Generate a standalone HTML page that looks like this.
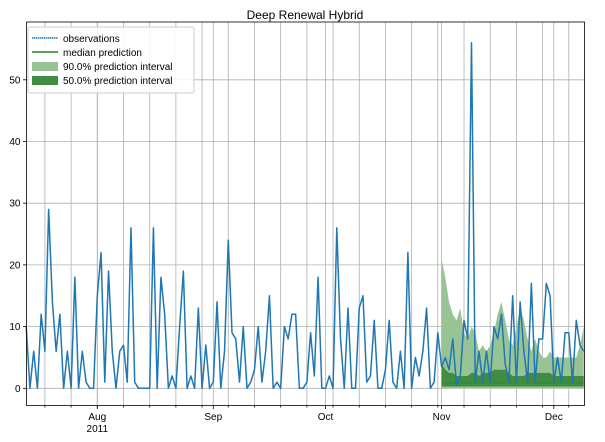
<!DOCTYPE html>
<html><head><meta charset="utf-8"><style>
body{margin:0;background:#fff;}
svg{display:block;font-family:"Liberation Sans","DejaVu Sans",sans-serif;}
</style></head><body>
<svg id="chart" width="605" height="442" viewBox="0 0 605 442">
<text x="305" y="19" text-anchor="middle" font-size="12" fill="#000">Deep Renewal Hybrid</text>
<g id="grid"></g>
<g id="bands"></g>
<g id="series"></g>
<g id="axes"></g>
<g id="legend">
<rect x="28" y="27" width="166" height="66" fill="#fff" fill-opacity="0.85" stroke="#ccc" rx="2"/>
<line x1="32" y1="38" x2="58" y2="38" stroke="#1f77b4" stroke-width="1.5" stroke-dasharray="1.5 0.5"/>
<text x="63" y="42" font-size="10">observations</text>
<line x1="32" y1="52" x2="58" y2="52" stroke="#2b7d2b" stroke-width="1.5"/>
<text x="63" y="56" font-size="10">median prediction</text>
<rect x="32" y="62" width="26" height="9" fill="#98c495"/>
<text x="63" y="70" font-size="10">90.0% prediction interval</text>
<rect x="32" y="76" width="26" height="9" fill="#408c40"/>
<text x="63" y="84" font-size="10">50.0% prediction interval</text>
</g>
</svg>
<script>
const obsValues=[10,0,6,0,12,6,29,14,6,12,0,6,0,18,0,6,1,0,0,15,22,1,19,6,0,6,7,1,26,1,0,0,0,0,26,0,18,12,
0,2,0,10,19,0,2,0,13,0,7,0,1,14,0,6,24,9,8,1,10,0,1,3,10,1,6,15,0,1,0,10,8,12,12,0,0,1,9,
2,18,0,0,2,0,26,8,0,13,0,0,13,15,1,2,11,0,0,3,11,1,0,6,0,22,0,5,2,6,13,0,1,9,
3.5,5,3,8,0.5,2,11,8,56,1,6,1,6,1,10,8,12,4,1,15,1,14,6,1,17,1,8,8,17,15,1,5,1,9,9,1,11,7,6];
const forecastStart=111;
const upper90=[21,18,14,12,11,13,9,8,10,9,6,7,6,7,9,12,14,11,8,7,10,13,11,8,6,8,6,5,5,6,5,5,5,5,5,5,5,7,10];
const upper50=[4,3,2.5,2.5,2,2,2,2,2.5,2.5,2,2.5,2.5,2.5,3,3,3,3,2.5,2,2,2,2,2.5,2.5,2.5,2.5,2.5,2.5,2.5,2,2,2,2,2,2,2,2,2];
const lower50Value=0.3;
const medianValue=0.8;
const yTicks=[0,10,20,30,40,50];
const monthTicks=[19,50,80,111,141];
const monthLabels=["Aug","Sep","Oct","Nov","Dec"];

const NS="http://www.w3.org/2000/svg";
const L=26.5,R=584.5,T=22,B=405.5;
const xs=d=>26.2+3.742*d;
const ys=v=>388.3-6.17*v;
function mk(tag,attrs,parent){const e=document.createElementNS(NS,tag);for(const k in attrs)e.setAttribute(k,attrs[k]);parent.appendChild(e);return e;}
const grid=document.getElementById('grid'),axes=document.getElementById('axes'),bands=document.getElementById('bands'),series=document.getElementById('series');

// grid
for(let d=5;d<obsValues.length;d+=7){
  const g=mk('line',{x1:xs(d),x2:xs(d),y1:T,y2:B,stroke:'#b0b0b0','stroke-width':0.8},grid);
  
  
  const t=mk('line',{x1:xs(d),x2:xs(d),y1:B,y2:B+2,stroke:'#000','stroke-width':0.8},axes);
  
  
}
monthTicks.forEach((d,i)=>{
  const g=mk('line',{x1:xs(d),x2:xs(d),y1:T,y2:B,stroke:'#b0b0b0','stroke-width':0.8},grid);
  
  
  mk('line',{x1:xs(d),x2:xs(d),y1:B,y2:B+3.5,stroke:'#000','stroke-width':0.8},axes);
  const t=mk('text',{x:xs(d),y:420,'text-anchor':'middle','font-size':10},axes);
  t.textContent=monthLabels[i];
  
  
});
const yr=mk('text',{x:xs(19),y:432,'text-anchor':'middle','font-size':10},axes);
yr.textContent='2011';


yTicks.forEach(v=>{
  const g=mk('line',{x1:L,x2:R,y1:ys(v),y2:ys(v),stroke:'#b0b0b0','stroke-width':0.8},grid);
  
  
  mk('line',{x1:L-3.5,x2:L,y1:ys(v),y2:ys(v),stroke:'#000','stroke-width':0.8},axes);
  const t=mk('text',{x:L-6,y:ys(v)+3.5,'text-anchor':'end','font-size':10},axes);
  t.textContent=v;
  
  
});
const frame=mk('rect',{x:L,y:T,width:R-L,height:B-T,fill:'none',stroke:'#000','stroke-width':0.8},axes);



// bands
function band(up,lowv,fill,name){
  let p='';
  up.forEach((v,i)=>{p+=(i?'L':'M')+xs(forecastStart+i)+','+ys(v);});
  for(let i=up.length-1;i>=0;i--)p+='L'+xs(forecastStart+i)+','+ys(lowv);
  const e=mk('path',{d:p+'Z',fill:fill},bands);
  
  
}
band(upper90,0,'#98c495','interval-90');
band(upper50,lowerVal=lower50Value,'#408c40','interval-50');
let mp='';
upper90.forEach((v,i)=>{mp+=(i?'L':'M')+xs(forecastStart+i)+','+ys(medianValue);});
const med=mk('path',{d:mp,fill:'none',stroke:'#2b7d2b','stroke-width':1.2,'stroke-dasharray':'1 3'},series);



// observations
let op='';
obsValues.forEach((v,i)=>{op+=(i?'L':'M')+xs(i)+','+ys(v);});
const ob=mk('path',{d:op,fill:'none',stroke:'#1f77b4','stroke-width':1.5,'stroke-linejoin':'round'},series);


</script>
</body></html>
